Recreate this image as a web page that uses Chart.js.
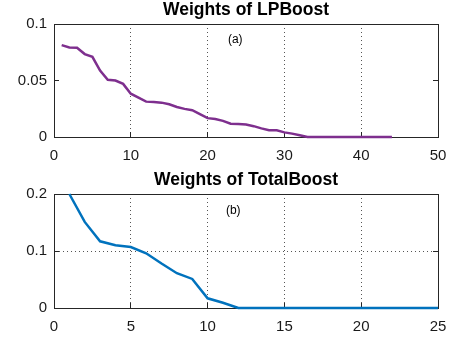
<!DOCTYPE html>
<html>
<head>
<meta charset="utf-8">
<script src="https://cdn.jsdelivr.net/npm/chart.js@4"></script>
<style>
  html, body { margin: 0; padding: 0; background: #fff; }
  #wrap { position: relative; width: 454px; height: 339px; }
  canvas { position: absolute; left: 0; }
</style>
</head>
<body>
<div id="wrap">
  <canvas id="c1" width="454" height="170" style="top:0px"></canvas>
  <canvas id="c2" width="454" height="169" style="top:170px"></canvas>
</div>
<script>
// ---- Data ----
const lpTitle = 'Weights of LPBoost';
const lpX = [1,2,3,4,5,6,7,8,9,10,11,12,13,14,15,16,17,18,19,20,21,22,23,24,25,26,27,28,29,30,31,32,33,34,35,36,37,38,39,40,41,42,43,44];
const lpW = [0.0813,0.0792,0.0790,0.0734,0.0710,0.0588,0.0506,0.0500,0.0470,0.0383,0.0348,0.0313,0.0310,0.0304,0.0290,0.0266,0.0249,0.0237,0.0202,0.0167,0.0160,0.0143,0.0117,0.0114,0.0110,0.0096,0.0076,0.0059,0.0059,0.0041,0.0030,0.0015,0,0,0,0,0,0,0,0,0,0,0,0];
const lpXTicks = [0,10,20,30,40,50];
const lpYTicks = [0,0.05,0.1];

const tbTitle = 'Weights of TotalBoost';
const tbX = [1,2,3,4,5,6,7,8,9,10,11,12,13,14,15,16,17,18,19,20,21,22,23,24,25];
const tbW = [0.200,0.151,0.117,0.110,0.107,0.096,0.078,0.061,0.051,0.017,0.0093,0,0,0,0,0,0,0,0,0,0,0,0,0,0];
const tbXTicks = [0,5,10,15,20,25];
const tbYTicks = [0,0.1,0.2];

const FONT = "'Liberation Sans', Arial, Helvetica, sans-serif";

function boxPlugin(label, lx, ly) {
  return {
    id: 'box',
    beforeDatasetsDraw(chart) {
      const ctx = chart.ctx, a = chart.chartArea;
      ctx.save();
      ctx.strokeStyle = '#262626';
      ctx.lineWidth = 1;
      ctx.setLineDash([]);
      ctx.strokeRect(Math.round(a.left) + 0.5, Math.round(a.top) + 0.5, Math.round(a.right - a.left), Math.round(a.bottom - a.top));
      ctx.restore();
    },
    afterDatasetsDraw(chart) {
      const ctx = chart.ctx;
      const xs = chart.scales.x, ys = chart.scales.y;
      ctx.save();
      ctx.fillStyle = '#000';
      ctx.font = '12px ' + FONT;
      ctx.textAlign = 'center';
      ctx.textBaseline = 'middle';
      ctx.fillText(label, xs.getPixelForValue(lx), ys.getPixelForValue(ly));
      ctx.restore();
    }
  };
}

function makeChart(id, title, xs, ws, xTicks, yTicks, color, yGrid, label, lx, ly, xh) {
  const tickArr = arr => (scale) => { scale.ticks = arr.map(v => ({ value: v })); };
  new Chart(document.getElementById(id), {
    type: 'line',
    data: {
      datasets: [{
        data: xs.map((x, i) => ({ x: x, y: ws[i] })),
        borderColor: color,
        borderWidth: 2.5,
        pointRadius: 0,
        tension: 0,
        fill: false,
        clip: 2
      }]
    },
    options: {
      responsive: false,
      animation: false,
      devicePixelRatio: 1,
      layout: { padding: { left: 0, right: 16, top: 0, bottom: 0 } },
      plugins: {
        legend: { display: false },
        tooltip: { enabled: false },
        title: {
          display: true,
          fullSize: false,
          text: title,
          color: '#000',
          font: { family: FONT, size: 17.5, weight: 'bold', lineHeight: 1.1 },
          padding: { top: 1, bottom: 3.75 }
        }
      },
      scales: {
        x: {
          type: 'linear',
          min: xTicks[0], max: xTicks[xTicks.length - 1],
          afterBuildTicks: tickArr(xTicks),
          afterFit: s => { s.height = xh; s.paddingLeft = 0; s.paddingRight = 0; },
          border: { display: true, color: '#262626', width: 1, dash: [1, 3] },
          grid: { display: true, drawOnChartArea: true, color: '#555', lineWidth: 1, drawTicks: true, tickLength: -5, tickColor: '#262626', tickBorderDash: [] },
          ticks: { color: '#1a1a1a', font: { family: FONT, size: 15 }, padding: 15, maxRotation: 0, autoSkip: false, callback: v => String(v) }
        },
        y: {
          type: 'linear',
          min: yTicks[0], max: yTicks[yTicks.length - 1],
          afterBuildTicks: tickArr(yTicks),
          afterFit: s => { s.width = 54; s.paddingTop = 0; s.paddingBottom = 0; },
          border: { display: true, color: '#262626', width: 1, dash: [1, 3] },
          grid: { display: true, drawOnChartArea: yGrid, color: '#555', lineWidth: 1, drawTicks: true, tickLength: -5, tickColor: '#262626', tickBorderDash: [] },
          ticks: { color: '#1a1a1a', font: { family: FONT, size: 15 }, padding: 12, autoSkip: false, callback: v => String(v) }
        },
        y2: {
          type: 'linear', position: 'right',
          min: yTicks[0], max: yTicks[yTicks.length - 1],
          afterBuildTicks: tickArr(yTicks),
          afterFit: s => { s.width = 0; s.paddingTop = 0; s.paddingBottom = 0; },
          border: { display: false },
          grid: { display: true, drawOnChartArea: false, drawTicks: true, tickLength: -5, tickColor: '#262626' },
          ticks: { display: false }
        }
      }
    },
    plugins: [boxPlugin(label, lx, ly)]
  });
}

makeChart('c1', lpTitle, lpX, lpW, lpXTicks, lpYTicks, '#7E2F8E', false, '(a)', 23.6, 0.086, 33);
makeChart('c2', tbTitle, tbX, tbW, tbXTicks, tbYTicks, '#0072BD', true, '(b)', 11.67, 0.170, 31);
</script>
</body>
</html>
